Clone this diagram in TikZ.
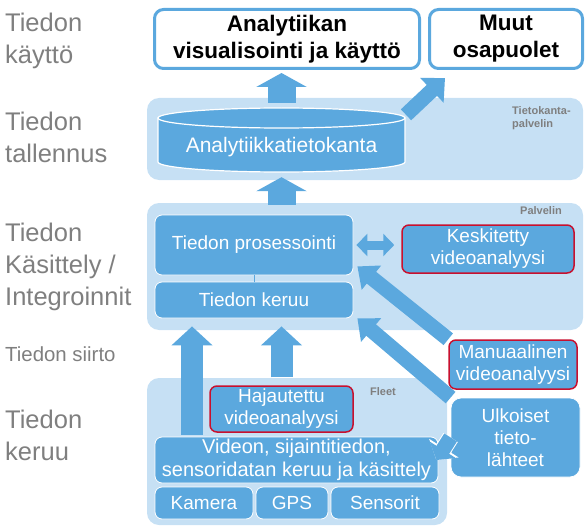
\documentclass[tikz,border=0pt]{standalone}
\usepackage{fontspec}
\setmainfont{Liberation Sans}
\usepackage{tikz}
\usetikzlibrary{arrows.meta,backgrounds}
\definecolor{fleetblue}{HTML}{5BA8DE}
\definecolor{layerblue}{HTML}{C6E0F4}
\definecolor{framered}{HTML}{C8102E}
\definecolor{levelgray}{HTML}{7F7F7F}

\begin{document}
\begin{tikzpicture}[x=1pt,y=-1pt,
  layer/.style={fill=layerblue, rounded corners=12pt, inner sep=0},
  unit/.style={fill=fleetblue, draw=white, line width=0.8pt, rounded corners=7pt, text=white, align=center, inner sep=0, font=\fontsize{19}{22}\selectfont},
  vabox/.style={unit, draw=framered, line width=1.5pt},
  usebox/.style={fill=white, draw=fleetblue, line width=3pt, rounded corners=9pt, align=center, inner sep=0, font=\bfseries\fontsize{22.5}{27}\selectfont},
  level/.style={anchor=north west, inner sep=0, align=left, text=levelgray, font=\fontsize{25.5}{32}\selectfont},
  tag/.style={anchor=north west, inner sep=0, align=left, text=levelgray, font=\bfseries\fontsize{11}{13.5}\selectfont},
  fat/.style n args={3}{draw=fleetblue, line width=#1, -{Triangle[width=#2,length=#3]}},
]
  \useasboundingbox (0,0) rectangle (586,532);

  \node[level] (lv1) at (5,13) {Tiedon\\käyttö};
  \node[level] (lv2) at (5,112) {Tiedon\\tallennus};
  \node[level] (lv3) at (5,223) {Tiedon\\Käsittely /\\Integroinnit};
  \node[level, font=\fontsize{20.4}{24}\selectfont] (lv4) at (5,347) {Tiedon siirto};
  \node[level] (lv5) at (5,410) {Tiedon\\keruu};

  \node[usebox, minimum width=265pt, minimum height=59pt] (vis) at (287,39) {Analytiikan\\visualisointi ja käyttö};
  \node[usebox, minimum width=153pt, minimum height=59pt] (muut) at (506,39) {Muut\\osapuolet};

  \begin{scope}[on background layer]
    \node[layer, minimum width=436pt, minimum height=82pt] (dbsrv) at (365,139) {};
    \node[layer, minimum width=436pt, minimum height=127pt] (palv) at (365,266.5) {};
    \node[layer, minimum width=300pt, minimum height=147pt] (fleet) at (297,451.5) {};
  \end{scope}

  \node[tag] (dbtag) at (512,106) {Tietokanta-\\palvelin};
  \node[tag] (palvtag) at (520,206) {Palvelin};
  \node[tag] (fleettag) at (370,387) {Fleet};

  \filldraw[fill=fleetblue, draw=white, line width=1.2pt] (158,118) -- (158,162) arc[start angle=180, end angle=0, x radius=123.5, y radius=10] -- (405,118) -- cycle;
  \filldraw[fill=fleetblue, draw=white, line width=1.2pt] (281.5,118) ellipse[x radius=123.5, y radius=10];
  \node[inner sep=0, text=white, font=\fontsize{21}{24}\selectfont] (db) at (281.5,147) {Analytiikkatietokanta};

  \node[unit, minimum width=198pt, minimum height=60pt] (proc) at (254,245) {Tiedon prosessointi};
  \node[unit, minimum width=198pt, minimum height=36pt] (keruu) at (254,300) {Tiedon keruu};
  \node[vabox, minimum width=172pt, minimum height=48pt] (kesk) at (488,249) {Keskitetty\\videoanalyysi};
  \node[vabox, minimum width=128pt, minimum height=49pt] (manu) at (513,364.5) {Manuaalinen\\videoanalyysi};
  \node[unit, minimum width=129pt, minimum height=79pt, rounded corners=10pt] (ulk) at (515.5,437.5) {Ulkoiset\\tieto-\\lähteet};
  \node[vabox, minimum width=143pt, minimum height=46pt] (haj) at (281.5,409) {Hajautettu\\videoanalyysi};
  \node[unit, minimum width=283pt, minimum height=46pt, font=\fontsize{20}{23}\selectfont] (vid) at (296.5,460) {Videon, sijaintitiedon,\\sensoridatan keruu ja käsittely};
  \node[unit, minimum width=98pt, minimum height=32pt] (kam) at (204,503) {Kamera};
  \node[unit, minimum width=72pt, minimum height=32pt] (gps) at (292,503) {GPS};
  \node[unit, minimum width=108pt, minimum height=32pt] (sens) at (385,503) {Sensorit};

  \draw[fleetblue, line width=1pt] (proc) -- (keruu);

  \begin{scope}[on background layer]
    \draw[fat={28pt}{50pt}{14pt}] ([yshift=-5pt]dbsrv.north -| db.center) -- ([yshift=-3pt]vis.south -| db.center);
    \draw[fat={28pt}{50pt}{14pt}] ([yshift=-2pt]palv.north -| db.center) -- ([yshift=3pt]dbsrv.south -| db.center);
    \draw[fat={15pt}{33pt}{18pt}] ([xshift=41pt,yshift=-17pt]dbsrv.north) -- ([xshift=17pt,yshift=-8pt]muut.south west);
    \draw[fat={22pt}{40pt}{19pt}] ([xshift=-104.5pt,yshift=2pt]vid.north) -- ([xshift=-104.5pt,yshift=-8pt]keruu.south -| vid.north);
    \draw[fat={22pt}{40pt}{19pt}] ([yshift=8pt]haj.north -| haj.center) -- ([yshift=-8pt]keruu.south -| haj.center);
    \draw[fat={15pt}{30pt}{18pt}] (manu.north west) -- ([xshift=4pt,yshift=9pt]proc.south east);
    \draw[fat={15pt}{30pt}{18pt}] (ulk.north west) -- ([xshift=4pt]keruu.south east);
  \end{scope}

  \draw[fat={9pt}{22pt}{11pt}, {Triangle[width=22pt,length=11pt]}-{Triangle[width=22pt,length=11pt]}] ([xshift=3pt]proc.east) -- ([xshift=-7pt]kesk.west |- proc.east);
  \draw[fat={15pt}{30pt}{12pt}, preaction={draw=white, line width=17pt, -{Triangle[width=34pt,length=14pt]}}] (ulk.west) -- ([xshift=-2pt]vid.east);
\end{tikzpicture}
\end{document}
